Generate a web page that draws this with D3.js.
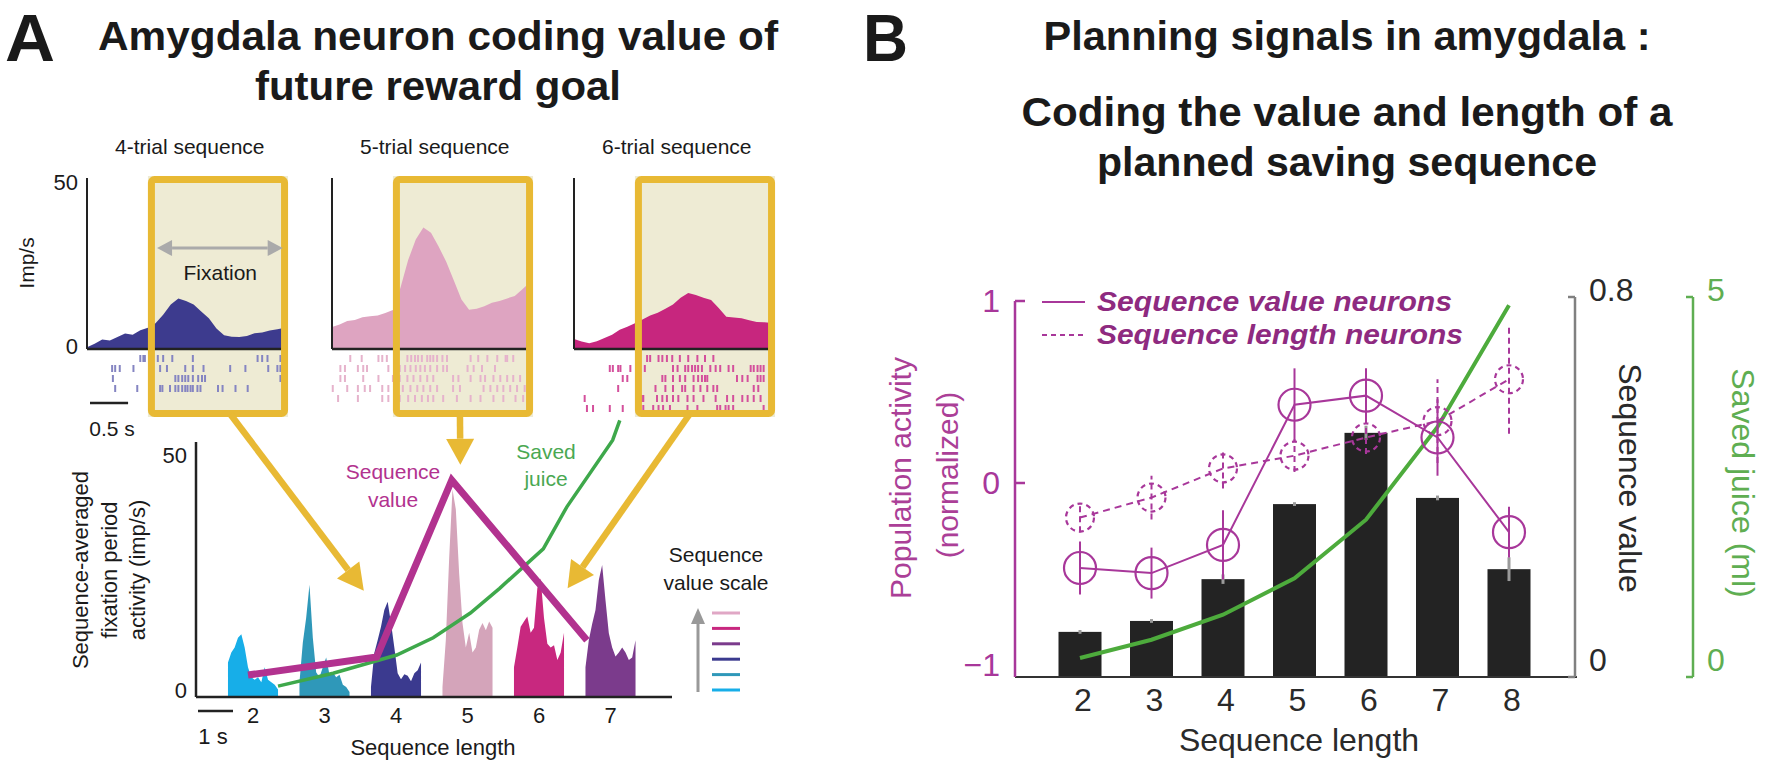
<!DOCTYPE html>
<html>
<head>
<meta charset="utf-8">
<script src="https://cdn.jsdelivr.net/npm/d3@7"></script>
<style>
  body { margin: 0; background: #fff; }
  svg text { font-family: 'Liberation Sans', Arial, Helvetica, sans-serif; }
</style>
</head>
<body>
<svg id="fig" width="1772" height="767"></svg>
<script>
// ---------- Panel A, top: single-neuron PSTHs ----------
const psthTitles = ['4-trial sequence', '5-trial sequence', '6-trial sequence'];
const psthTimes = d3.range(27).map(i => i / 10);           // s from plot start
const psth4 = [0.5, 1.5, 2.8, 2.5, 3.5, 4.5, 4.2, 5.5, 6.2, 7.5, 10, 13, 14.8, 14, 13, 11, 9, 6, 4, 3.6, 3.5, 3.8, 4.6, 4.8, 5.4, 5.8, 6.2];
const psth5 = [6.4, 7.2, 8.2, 8.5, 9.3, 9.6, 9.8, 10.5, 11.4, 18, 26, 32, 35.5, 34, 30, 25.5, 20, 14.5, 11.5, 11.8, 12.5, 13.5, 14, 14.8, 15.5, 17.5, 19.5];
const psth6 = [2.9, 2.2, 1.7, 2.3, 3.2, 4.2, 5.6, 6.5, 7.5, 8.6, 9.8, 10.6, 11.8, 13, 15, 16.4, 15.8, 15, 14.3, 12, 9.4, 9.2, 9, 8.4, 7.9, 7.8, 7.6];
const fixWindow = [0.8, 2.64];

// spike rasters (s), one array per trial
const raster4 = [
  [0.70, 0.74, 0.76, 0.93, 1.0, 1.12, 1.39, 2.24, 2.30, 2.37, 2.54],
  [0.33, 0.37, 0.43, 0.61, 0.96, 1.05, 1.29, 1.39, 1.53, 1.88, 2.08, 2.38, 2.5, 2.54],
  [0.34, 1.16, 1.2, 1.25, 1.29, 1.33, 1.39, 1.46, 1.51, 1.55, 2.54],
  [0.37, 0.66, 0.96, 0.99, 1.09, 1.16, 1.2, 1.25, 1.29, 1.32, 1.36, 1.39, 1.45, 1.49, 1.72, 1.78, 1.95, 2.11]
];
const raster5 = [
  [0.24, 0.39, 0.61, 0.66, 0.72, 0.99, 1.04, 1.09, 1.13, 1.18, 1.25, 1.29, 1.33, 1.38, 1.45, 1.51, 1.82, 1.92, 2.04, 2.17, 2.28, 2.30, 2.38],
  [0.11, 0.17, 0.34, 0.41, 0.46, 0.74, 0.89, 0.96, 1.03, 1.1, 1.16, 1.22, 1.29, 1.38, 1.46, 1.51, 1.78, 1.86, 1.97, 2.14],
  [0.11, 0.17, 0.41, 0.61, 0.80, 0.89, 0.99, 1.07, 1.16, 1.25, 1.33, 1.59, 1.66, 1.82, 1.95, 2.01, 2.12, 2.21, 2.30, 2.38, 2.47],
  [0.01, 0.2, 0.34, 0.43, 0.5, 0.66, 0.74, 0.86, 0.93, 1.03, 1.12, 1.2, 1.29, 1.38, 1.59, 1.68, 1.99, 2.08, 2.17, 2.25, 2.34, 2.43, 2.53],
  [0.08, 0.34, 0.66, 0.74, 0.89, 1.0, 1.09, 1.18, 1.26, 1.33, 1.46, 1.64, 1.82, 1.95, 2.12, 2.25, 2.41, 2.51]
];
const raster6 = [
  [0.96, 1.0, 1.11, 1.16, 1.22, 1.29, 1.39, 1.5, 1.62, 1.72, 1.83],
  [0.47, 0.51, 0.58, 0.61, 0.74, 0.84, 0.93, 1.3, 1.36, 1.46, 1.5, 1.55, 1.59, 1.63, 1.68, 1.79, 1.86, 1.92, 2.03, 2.09, 2.32, 2.36, 2.41, 2.45, 2.49],
  [0.64, 0.7, 1.16, 1.2, 1.3, 1.39, 1.46, 1.57, 1.63, 1.68, 1.72, 1.75, 2.14, 2.21, 2.28, 2.41, 2.45, 2.49],
  [0.58, 1.07, 1.2, 1.3, 1.42, 1.46, 1.57, 1.66, 1.75, 1.83, 1.88, 2.36, 2.42],
  [0.14, 0.87, 0.89, 0.91, 1.09, 1.16, 1.22, 1.3, 1.37, 1.49, 1.57, 1.7, 1.86, 2.01, 2.09, 2.21, 2.28, 2.36, 2.45],
  [0.17, 0.25, 0.47, 0.64, 0.91, 1.04, 1.11, 1.17, 1.26, 1.49, 1.62, 1.88, 1.92, 1.99, 2.03, 2.09, 2.49]
];

// ---------- Panel A, bottom: sequence-averaged fixation activity ----------
const seqLengthsA = [2, 3, 4, 5, 6, 7];
const burstOffsets = d3.range(16).map(i => -0.35 + i * 0.7 / 15);   // seq-length units
const burst2 = [7, 9, 10, 12, 12.7, 10, 6, 4, 3.5, 4, 3, 6, 3.5, 3, 2.5, 1.5];
const burst3 = [3, 11, 16, 22.7, 12, 5, 4, 6, 8, 4.5, 5, 4, 4.5, 2.5, 2, 1];
const burst4 = [2, 8.9, 11.5, 14.2, 17.6, 19.3, 15, 10, 4.8, 3.6, 4.6, 4.3, 3.2, 4.8, 5.4, 7];
const burst5 = [2, 11.5, 28, 42, 38, 25, 15, 10, 13, 9, 10, 13.6, 15, 13.5, 15.3, 14];
const burst6 = [6, 10, 14.2, 15.3, 16.3, 13, 14, 22, 24, 16, 10.8, 10, 10.5, 7.5, 9, 13];
const burst7 = [6, 11.5, 14.8, 17.6, 23.7, 26.7, 19.6, 12.9, 10, 8.2, 9, 10, 9, 7.5, 8, 11.5];
const burstColors = ['#17aee8', '#2f98b9', '#3b3a8f', '#d4a4ba', '#c8287f', '#7b3b8c'];
const seqValueLineA = [[1.93, 4.45], [3.73, 8.1], [4.78, 43.9], [6.67, 11.5]];
const savedJuiceLineA = [[2.35, 2.2], [3.12, 4.8], [4.01, 8.5], [4.52, 12], [5.04, 17], [5.45, 22], [6.06, 30], [6.39, 38.5], [7.03, 52], [7.13, 56]];
const arrowSources = [1.88, 1.68, 1.52];                    // s, on each fixation box
const arrowTargets = [[3.55, 21.5], [4.9, 47], [6.4, 22]];  // [length, imp/s]
const scaleColors = ['#e0a7c5', '#c8287f', '#7b3b8c', '#3b3a8f', '#2f98b9', '#17aee8'];

// ---------- Panel B ----------
const seqLengthsB = [2, 3, 4, 5, 6, 7, 8];
const seqValue = [0.095, 0.118, 0.206, 0.364, 0.514, 0.377, 0.227];
const seqValueErr = [0.004, 0.004, 0.01, 0.004, 0.015, 0.005, 0.025];
const savedJuice = [0.25, 0.49, 0.82, 1.3, 2.07, 3.29, 4.89];
const valueNeurons = [-0.467, -0.495, -0.34, 0.43, 0.48, 0.25, -0.27];
const valueNeuronsErr = [0.145, 0.14, 0.19, 0.2, 0.15, 0.21, 0.14];
const lengthNeurons = [-0.19, -0.08, 0.08, 0.15, 0.25, 0.34, 0.57];
const lengthNeuronsErr = [0.08, 0.12, 0.11, 0.09, 0.09, 0.23, 0.3];
const leftTicks = [-1, 0, 1];

const svg = d3.select('#fig');
const narrow = "'Liberation Sans Narrow', 'Liberation Sans', Arial, sans-serif";
const yellow = '#e8b934';

const txt = (x, y, s, size, opts = {}) => {
  const t = svg.append('text')
      .attr('x', x).attr('y', y)
      .attr('font-size', size)
      .attr('text-anchor', opts.anchor || 'middle')
      .attr('fill', opts.fill || '#1a1a1a')
      .text(s);
  if (opts.weight) t.attr('font-weight', opts.weight);
  if (opts.style) t.attr('font-style', opts.style);
  if (opts.family) t.style('font-family', opts.family);
  if (opts.len) t.attr('textLength', opts.len).attr('lengthAdjust', 'spacingAndGlyphs');
  return t;
};
const rotTxt = (x, y, s, size, angle, fill) => svg.append('text')
    .attr('transform', `translate(${x},${y}) rotate(${angle})`)
    .attr('dy', '0.35em')
    .attr('font-size', size)
    .attr('text-anchor', 'middle')
    .attr('fill', fill)
    .text(s);

const arrowHead = (g, x0, y0, x1, y1, len, half, color) => {
  const a = Math.atan2(y1 - y0, x1 - x0);
  const bx = x1 - len * Math.cos(a), by = y1 - len * Math.sin(a);
  const px = -Math.sin(a) * half, py = Math.cos(a) * half;
  g.append('path')
      .attr('d', `M${x1},${y1}L${bx + px},${by + py}L${bx - px},${by - py}Z`)
      .attr('fill', color);
  return [bx, by];
};

// ---------- Titles ----------
txt(5, 61, 'A', 66, {weight: 'bold', anchor: 'start', family: narrow, len: 50});
txt(438, 50, 'Amygdala neuron coding value of', 40, {weight: 'bold', family: narrow, len: 680});
txt(438, 100, 'future reward goal', 40, {weight: 'bold', family: narrow, len: 366});
txt(863, 61, 'B', 66, {weight: 'bold', anchor: 'start', family: narrow, len: 45});
txt(1347, 50, 'Planning signals in amygdala :', 40, {weight: 'bold', family: narrow, len: 607});
txt(1347, 126, 'Coding the value and length of a', 40, {weight: 'bold', family: narrow, len: 651});
txt(1347, 176, 'planned saving sequence', 40, {weight: 'bold', family: narrow, len: 500});

// ---------- Panel A top ----------
const tS = d3.scaleLinear().domain([0, 2.6]).range([0, 198]);
const yP = d3.scaleLinear().domain([0, 50]).range([349, 178]);
const psthX = [87, 332, 574];
const psthData = [psth4, psth5, psth6];
const psthColors = ['#3d3b8e', '#dea4c1', '#c7267e'];
const rasters = [raster4, raster5, raster6];
const rasterColors = ['#8585c2', '#e6b3cc', '#d4509c'];

psthX.forEach((ax, k) => {
  const g = svg.append('g').attr('transform', `translate(${ax},0)`);
  const bx0 = tS(fixWindow[0]), bx1 = tS(fixWindow[1]);
  g.append('rect')
      .attr('x', bx0).attr('y', 176).attr('width', bx1 - bx0).attr('height', 241)
      .attr('fill', '#eeebd4');

  const area = d3.area()
      .x((d, i) => tS(psthTimes[i]))
      .y0(yP(0))
      .y1(d => yP(d));
  g.append('path').datum(psthData[k]).attr('d', area).attr('fill', psthColors[k]);

  rasters[k].forEach((row, r) => {
    g.selectAll(null).data(row).enter().append('line')
        .attr('x1', d => tS(d)).attr('x2', d => tS(d))
        .attr('y1', 355 + r * 10).attr('y2', 362 + r * 10)
        .attr('stroke', rasterColors[k]).attr('stroke-width', 2);
  });

  g.append('line').attr('x1', 0).attr('x2', 0).attr('y1', yP(50)).attr('y2', yP(0))
      .attr('stroke', '#222').attr('stroke-width', 2);
  g.append('line').attr('x1', 0).attr('x2', tS(2.58)).attr('y1', yP(0)).attr('y2', yP(0))
      .attr('stroke', '#222').attr('stroke-width', 2.5);

  g.append('rect')
      .attr('x', bx0 + 3.5).attr('y', 179.5).attr('width', bx1 - bx0 - 7).attr('height', 234)
      .attr('rx', 3)
      .attr('fill', 'none').attr('stroke', yellow).attr('stroke-width', 7);

  txt(ax + tS(1.35), 154, psthTitles[k], 21);
});

txt(78, yP(50) + 12, '50', 22, {anchor: 'end'});
txt(78, yP(0) + 5, '0', 22, {anchor: 'end'});
rotTxt(27, 263, 'Imp/s', 21, -90, '#1a1a1a');

// fixation arrow
{
  const g = svg.append('g');
  const x0 = psthX[0] + tS(0.92), x1 = psthX[0] + tS(2.57), y = yP(29.5);
  const [bx1] = arrowHead(g, x0, y, x1, y, 15, 8, '#aaa');
  const [bx0] = arrowHead(g, x1, y, x0, y, 15, 8, '#aaa');
  g.append('line').attr('x1', bx0).attr('x2', bx1).attr('y1', y).attr('y2', y)
      .attr('stroke', '#aaa').attr('stroke-width', 3);
  txt(psthX[0] + tS(1.75), yP(29.5) + 32, 'Fixation', 21);
}

// 0.5 s scale bar
svg.append('line').attr('x1', 90).attr('x2', 90 + tS(0.5)).attr('y1', 403).attr('y2', 403)
    .attr('stroke', '#222').attr('stroke-width', 2.5);
txt(112, 436, '0.5 s', 21);

// ---------- Panel A bottom ----------
const xA = d3.scaleLinear().domain([2, 7]).range([253, 610.5]);
const yA = d3.scaleLinear().domain([0, 50]).range([697, 450]);
const bursts = [burst2, burst3, burst4, burst5, burst6, burst7];

// yellow arrows from fixation boxes
arrowSources.forEach((t, k) => {
  const g = svg.append('g');
  const x0 = psthX[k] + tS(t), y0 = 414;
  const x1 = xA(arrowTargets[k][0]), y1 = yA(arrowTargets[k][1]);
  const [bx, by] = arrowHead(g, x0, y0, x1, y1, 26, 14, yellow);
  g.append('line').attr('x1', x0).attr('y1', y0).attr('x2', bx).attr('y2', by)
      .attr('stroke', yellow).attr('stroke-width', 6.5);
});

bursts.forEach((b, k) => {
  const len = seqLengthsA[k];
  const area = d3.area()
      .x((d, i) => xA(len + burstOffsets[i]))
      .y0(yA(0))
      .y1(d => yA(d));
  svg.append('path').datum(b).attr('d', area).attr('fill', burstColors[k]);
});

const lineA = d3.line().x(d => xA(d[0])).y(d => yA(d[1]));
svg.append('path').datum(savedJuiceLineA).attr('d', lineA)
    .attr('fill', 'none').attr('stroke', '#3ea84b').attr('stroke-width', 3.5);
svg.append('path').datum(seqValueLineA).attr('d', lineA)
    .attr('fill', 'none').attr('stroke', '#b2328f').attr('stroke-width', 7)
    .attr('stroke-linejoin', 'miter');

svg.append('line').attr('x1', 196).attr('x2', 196).attr('y1', 442).attr('y2', yA(0))
    .attr('stroke', '#222').attr('stroke-width', 2.5);
svg.append('line').attr('x1', 196).attr('x2', 672).attr('y1', yA(0)).attr('y2', yA(0))
    .attr('stroke', '#222').attr('stroke-width', 2.5);
txt(187, yA(50) + 13, '50', 22, {anchor: 'end'});
txt(187, yA(0) + 1, '0', 22, {anchor: 'end'});

seqLengthsA.forEach(n => txt(xA(n), 723, n, 22));
txt(433, 755, 'Sequence length', 22);

svg.append('line').attr('x1', 198).attr('x2', 233).attr('y1', 711).attr('y2', 711)
    .attr('stroke', '#222').attr('stroke-width', 2.5);
txt(213, 744, '1 s', 22);

rotTxt(80, 570, 'Sequence-averaged', 22, -90, '#1a1a1a');
rotTxt(109, 570, 'fixation period', 22, -90, '#1a1a1a');
rotTxt(137, 570, 'activity (imp/s)', 22, -90, '#1a1a1a');

txt(393, 479, 'Sequence', 21, {fill: '#b2328f'});
txt(393, 507, 'value', 21, {fill: '#b2328f'});
txt(546, 459, 'Saved', 21, {fill: '#4aa852'});
txt(546, 486, 'juice', 21, {fill: '#4aa852'});

// sequence value scale legend
txt(716, 562, 'Sequence', 21);
txt(716, 590, 'value scale', 21);
{
  const g = svg.append('g');
  const [, by] = arrowHead(g, 698, 692, 698, 608, 16, 7, '#999');
  g.append('line').attr('x1', 698).attr('x2', 698).attr('y1', 692).attr('y2', by)
      .attr('stroke', '#999').attr('stroke-width', 3);
  const yL = d3.scalePoint().domain(scaleColors).range([613, 690]);
  g.selectAll(null).data(scaleColors).enter().append('line')
      .attr('x1', 712).attr('x2', 740)
      .attr('y1', d => yL(d)).attr('y2', d => yL(d))
      .attr('stroke', d => d).attr('stroke-width', 3);
}

// ---------- Panel B ----------
const xB = d3.scaleLinear().domain([2, 8]).range([1080, 1509]);
const yL = d3.scaleLinear().domain([-1, 1]).range([665, 301]);
const yV = d3.scaleLinear().domain([0, 0.8]).range([677, 297]);
const yJ = d3.scaleLinear().domain([0, 5]).range([677, 297]);
const mag = '#a8379a';
const green = '#4dab3c';

// bars
svg.selectAll(null).data(seqValue).enter().append('rect')
    .attr('x', (d, i) => xB(seqLengthsB[i]) - 21.5)
    .attr('y', d => yV(d))
    .attr('width', 43)
    .attr('height', d => yV(0) - yV(d))
    .attr('fill', '#232323');
svg.selectAll(null).data(seqValue).enter().append('line')
    .attr('x1', (d, i) => xB(seqLengthsB[i])).attr('x2', (d, i) => xB(seqLengthsB[i]))
    .attr('y1', (d, i) => yV(d - seqValueErr[i])).attr('y2', (d, i) => yV(d + seqValueErr[i]))
    .attr('stroke', '#9a9a9a').attr('stroke-width', 3);

// saved juice
svg.append('path').datum(savedJuice)
    .attr('d', d3.line().x((d, i) => xB(seqLengthsB[i])).y(d => yJ(d)))
    .attr('fill', 'none').attr('stroke', green).attr('stroke-width', 4);

// neuron populations
const drawPop = (vals, errs, dashed, r) => {
  const g = svg.append('g');
  const line = d3.line().x((d, i) => xB(seqLengthsB[i])).y(d => yL(d));
  g.append('path').datum(vals).attr('d', line)
      .attr('fill', 'none').attr('stroke', mag).attr('stroke-width', 2)
      .attr('stroke-dasharray', dashed ? '7,5' : null);
  g.selectAll(null).data(vals).enter().append('line')
      .attr('x1', (d, i) => xB(seqLengthsB[i])).attr('x2', (d, i) => xB(seqLengthsB[i]))
      .attr('y1', (d, i) => yL(d - errs[i])).attr('y2', (d, i) => yL(d + errs[i]))
      .attr('stroke', mag).attr('stroke-width', 2)
      .attr('stroke-dasharray', dashed ? '6,4' : null);
  g.selectAll(null).data(vals).enter().append('circle')
      .attr('cx', (d, i) => xB(seqLengthsB[i])).attr('cy', d => yL(d))
      .attr('r', r)
      .attr('fill', 'none').attr('stroke', mag).attr('stroke-width', 2.2)
      .attr('stroke-dasharray', dashed ? '5,4' : null);
};
drawPop(lengthNeurons, lengthNeuronsErr, true, 14);
drawPop(valueNeurons, valueNeuronsErr, false, 16);

// axes
svg.append('line').attr('x1', 1015).attr('x2', 1577).attr('y1', 677).attr('y2', 677)
    .attr('stroke', '#333').attr('stroke-width', 2);
svg.append('line').attr('x1', 1015).attr('x2', 1015).attr('y1', yL(1)).attr('y2', 677)
    .attr('stroke', mag).attr('stroke-width', 2.5);
leftTicks.forEach(v => {
  if (v > -1) {
    svg.append('line').attr('x1', 1015).attr('x2', 1025).attr('y1', yL(v)).attr('y2', yL(v))
        .attr('stroke', mag).attr('stroke-width', 2.5);
  }
  txt(1000, yL(v) + 11, v < 0 ? '\u2212' + Math.abs(v) : v, 32, {anchor: 'end', fill: mag});
});
rotTxt(900, 478, 'Population activity', 30, -90, '#ab3f97');
rotTxt(947, 475, '(normalized)', 30, -90, '#ab3f97');

const rightAxis = (x, scale, top, color, textColor, labels) => {
  svg.append('line').attr('x1', x).attr('x2', x).attr('y1', scale(top)).attr('y2', scale(0))
      .attr('stroke', color).attr('stroke-width', 2.5);
  [0, top].forEach(v => {
    svg.append('line').attr('x1', x - 7).attr('x2', x).attr('y1', scale(v)).attr('y2', scale(v))
        .attr('stroke', color).attr('stroke-width', 2.5);
  });
  labels.forEach(([v, s, dy]) => txt(x + 14, scale(v) + dy, s, 32, {anchor: 'start', fill: textColor}));
};
rightAxis(1575, yV, 0.8, '#808080', '#2a2a2a', [[0.8, '0.8', 4], [0, '0', -6]]);
rightAxis(1693, yJ, 5, '#5fae52', '#5fae52', [[5, '5', 4], [0, '0', -6]]);

rotTxt(1630, 478, 'Sequence value', 32, 90, '#2a2a2a');
rotTxt(1743, 483, 'Saved juice (ml)', 32, 90, '#5fae52');

seqLengthsB.forEach(n => txt(xB(n) + 3, 711, n, 32, {fill: '#2a2a2a'}));
txt(1299, 751, 'Sequence length', 32, {fill: '#2a2a2a'});

// legend
svg.append('line').attr('x1', 1042).attr('x2', 1085).attr('y1', 302).attr('y2', 302)
    .attr('stroke', mag).attr('stroke-width', 2);
svg.append('line').attr('x1', 1042).attr('x2', 1085).attr('y1', 335).attr('y2', 335)
    .attr('stroke', mag).attr('stroke-width', 2).attr('stroke-dasharray', '5,4');
txt(1097, 311, 'Sequence value neurons', 27, {anchor: 'start', weight: 'bold', style: 'italic', fill: '#8e2a80', len: 355});
txt(1097, 344, 'Sequence length neurons', 27, {anchor: 'start', weight: 'bold', style: 'italic', fill: '#8e2a80', len: 366});
</script>
</body>
</html>
